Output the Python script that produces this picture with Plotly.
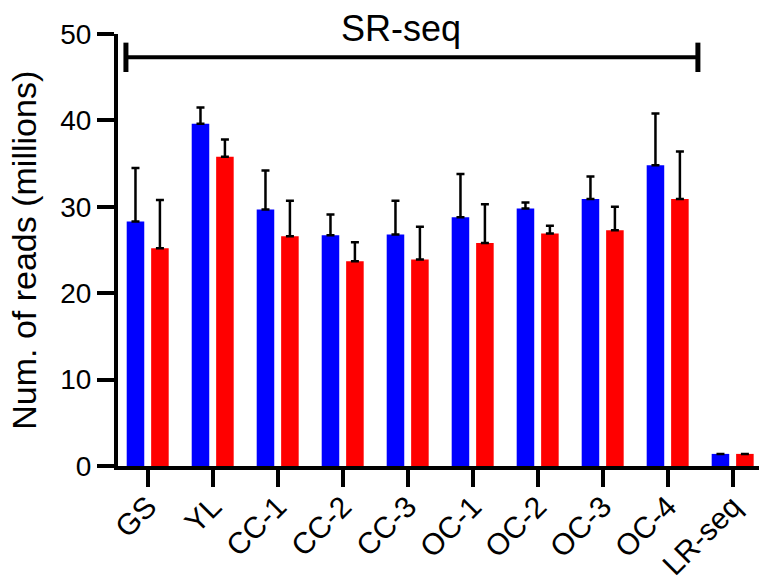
import plotly.graph_objects as go

categories = ["GS", "YL", "CC-1", "CC-2", "CC-3", "OC-1", "OC-2", "OC-3", "OC-4", "LR-seq"]
blue_vals = [28.3, 39.6, 29.7, 26.7, 26.8, 28.8, 29.8, 30.9, 34.8, 1.4]
blue_err = [6.2, 1.9, 4.5, 2.4, 3.9, 5.0, 0.7, 2.6, 6.0, 0.0]
red_vals = [25.2, 35.8, 26.6, 23.7, 23.9, 25.8, 26.9, 27.3, 30.9, 1.4]
red_err = [5.6, 2.0, 4.1, 2.2, 3.8, 4.5, 0.9, 2.7, 5.5, 0.0]
y_ticks = [0, 10, 20, 30, 40, 50]
bracket_label = "SR-seq"
y_title = "Num. of reads (millions)"

FONT = "Arial, Liberation Sans, sans-serif"
xs = list(range(len(categories)))
off = 0.188
bw = 0.27

fig = go.Figure()
fig.add_trace(go.Bar(
    x=[x - off for x in xs], y=blue_vals, width=bw,
    marker=dict(color="#0000FF", line=dict(width=0)),
    error_y=dict(type="data", array=blue_err, arrayminus=[0] * len(xs), symmetric=False,
                 color="black", thickness=2.5, width=4),
    showlegend=False,
))
fig.add_trace(go.Bar(
    x=[x + off for x in xs], y=red_vals, width=bw,
    marker=dict(color="#FF0000", line=dict(width=0)),
    error_y=dict(type="data", array=red_err, arrayminus=[0] * len(xs), symmetric=False,
                 color="black", thickness=2.5, width=4),
    showlegend=False,
))

# SR-seq bracket
x0b, x1b, yb = -0.335, 8.465, 47.3
fig.add_shape(type="line", x0=x0b, x1=x1b, y0=yb, y1=yb, xref="x", yref="y",
              line=dict(color="black", width=4))
for xb in (x0b, x1b):
    fig.add_shape(type="line", x0=xb, x1=xb, y0=yb - 1.7, y1=yb + 1.7, xref="x", yref="y",
                  line=dict(color="black", width=5))
fig.add_annotation(x=3.9, y=1.012, xref="x", yref="paper", text=bracket_label,
                   xanchor="center", yanchor="middle",
                   showarrow=False, font=dict(family=FONT, size=36, color="black"))

# y-axis title
fig.add_annotation(x=-0.147, y=0.5, xref="paper", yref="paper", text=y_title,
                   textangle=-90, xanchor="center", yanchor="middle",
                   showarrow=False, font=dict(family=FONT, size=34, color="black"))

fig.update_layout(
    width=759, height=583,
    margin=dict(l=118, r=0, t=34, b=117),
    paper_bgcolor="white", plot_bgcolor="white",
    barmode="overlay",
    font=dict(family=FONT, color="black"),
    xaxis=dict(
        range=[-0.457, 9.405], tickvals=xs, ticktext=categories,
        tickangle=-45, tickfont=dict(size=30, family=FONT),
        ticklabelstandoff=-10,
        showline=True, linecolor="black", linewidth=4,
        ticks="outside", ticklen=17, tickwidth=4, tickcolor="black",
        showgrid=False, zeroline=False, automargin=False,
    ),
    yaxis=dict(
        range=[0, 50], tickvals=y_ticks,
        tickfont=dict(size=28, family=FONT),
        showline=True, linecolor="black", linewidth=4,
        ticks="outside", ticklen=17, tickwidth=4, tickcolor="black",
        showgrid=False, zeroline=False, automargin=False,
    ),
)

fig.write_html("out.html")
